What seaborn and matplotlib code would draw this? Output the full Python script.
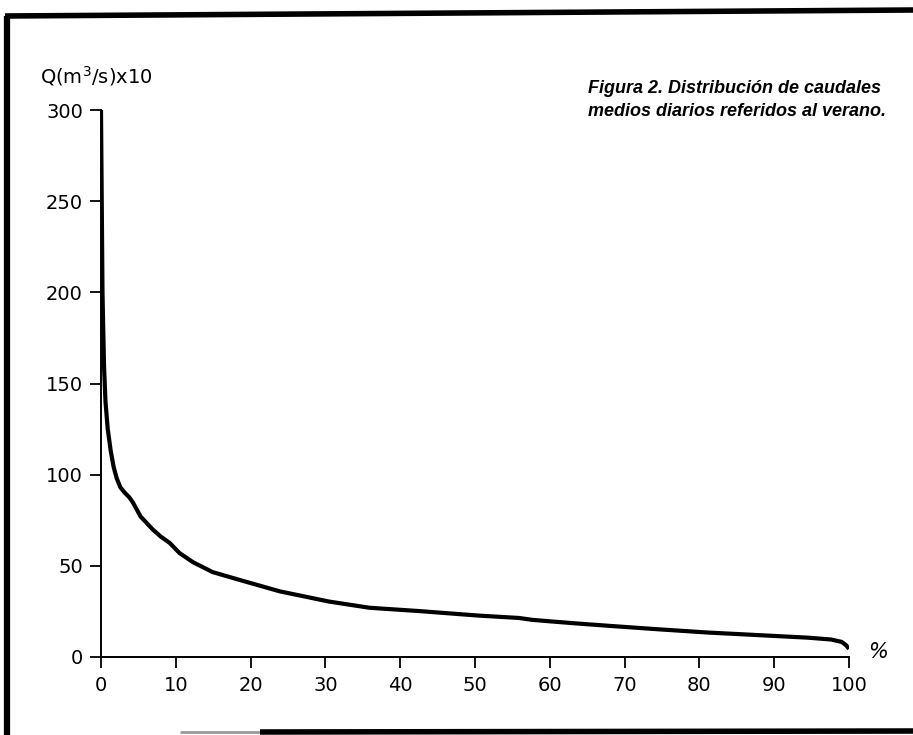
import matplotlib
matplotlib.use("Agg")
import matplotlib.pyplot as plt
import seaborn as sns
import pandas as pd
from matplotlib.lines import Line2D

# percent of time a flow is exceeded
pct = [0, 0.1, 0.2, 0.4, 0.6, 0.9, 1.3, 1.7, 2.1, 2.6, 3.2, 3.8, 4.3, 5.3,
       6.9, 8.0, 9.2, 10.5, 12.3, 14.9, 18.5, 23.9, 30.5, 35.9, 42.5, 50.5,
       55.9, 57.6, 59.9, 63.9, 67.9, 74.5, 81.2, 87.9, 94.5, 97.6, 99.0,
       99.6, 100]
# daily mean flow, Q (m3/s) x 10
flow = [300, 250, 200, 160, 140, 125, 113, 104, 98, 93, 90, 87.5, 84.5, 77,
        70, 66, 62.5, 57, 52, 46.6, 42.3, 36, 30.4, 27, 25.2, 22.7,
        21.4, 20.4, 19.6, 18.3, 17.1, 15.2, 13.4, 12.0, 10.6, 9.6, 8.3,
        6.5, 4.5]

x_ticks = [0, 10, 20, 30, 40, 50, 60, 70, 80, 90, 100]
y_ticks = [0, 50, 100, 150, 200, 250, 300]

title = "Figura 2. Distribución de caudales\nmedios diarios referidos al verano."
ylabel = "Q(m$^3$/s)x10"

sns.set_style("ticks")
plt.rcParams['font.family'] = ['DejaVu Sans']
plt.rcParams['mathtext.fontset'] = 'dejavusans'
plt.rcParams['text.color'] = 'black'

df = pd.DataFrame({"pct": pct, "flow": flow})

fig = plt.figure(figsize=(9.13, 7.35), dpi=100)
ax = fig.add_axes([101 / 913, 1 - 657 / 735, 748 / 913, 547 / 735])

sns.lineplot(data=df, x="pct", y="flow", ax=ax, color="black", linewidth=3,
             solid_capstyle="butt", solid_joinstyle="round")

ax.set_xlim(0, 100)
ax.set_ylim(0, 300)
ax.set_xticks(x_ticks)
ax.set_yticks(y_ticks)
ax.set_xlabel("")
ax.set_ylabel("")
sns.despine(ax=ax)
for s in ["left", "bottom"]:
    ax.spines[s].set_linewidth(1.4)
    ax.spines[s].set_color("black")
ax.tick_params(axis="both", direction="out", length=8, width=1.3,
               colors="black", labelsize=14)
ax.tick_params(axis="y", pad=5)
ax.tick_params(axis="x", pad=6)

ax.text(102.5, 3, "%", fontsize=15, style="italic", ha="left", va="center",
        clip_on=False)

fig.text(40 / 913, 1 - 76 / 735, ylabel, fontsize=14, ha="left", va="center")
fig.text(588 / 913, 1 - 100 / 735, title, fontsize=13, ha="left",
         va="center", family="Liberation Sans", weight="bold",
         style="italic", linespacing=1.4)

# scanned frame around the figure
fig.add_artist(Line2D([7 / 913, 7 / 913], [0, 1 - 16 / 735],
                      transform=fig.transFigure, color="black", lw=4.5,
                      solid_capstyle="butt"))
fig.add_artist(Line2D([5 / 913, 1], [1 - 16 / 735, 1 - 10 / 735],
                      transform=fig.transFigure, color="black", lw=4,
                      solid_capstyle="butt"))
fig.add_artist(Line2D([180 / 913, 260 / 913], [1 - 732 / 735, 1 - 732 / 735],
                      transform=fig.transFigure, color="0.6", lw=2,
                      solid_capstyle="butt"))
fig.add_artist(Line2D([260 / 913, 1], [1 - 732 / 735, 1 - 731 / 735],
                      transform=fig.transFigure, color="black", lw=4,
                      solid_capstyle="butt"))

fig.savefig("out.png", dpi=100, facecolor="white")
